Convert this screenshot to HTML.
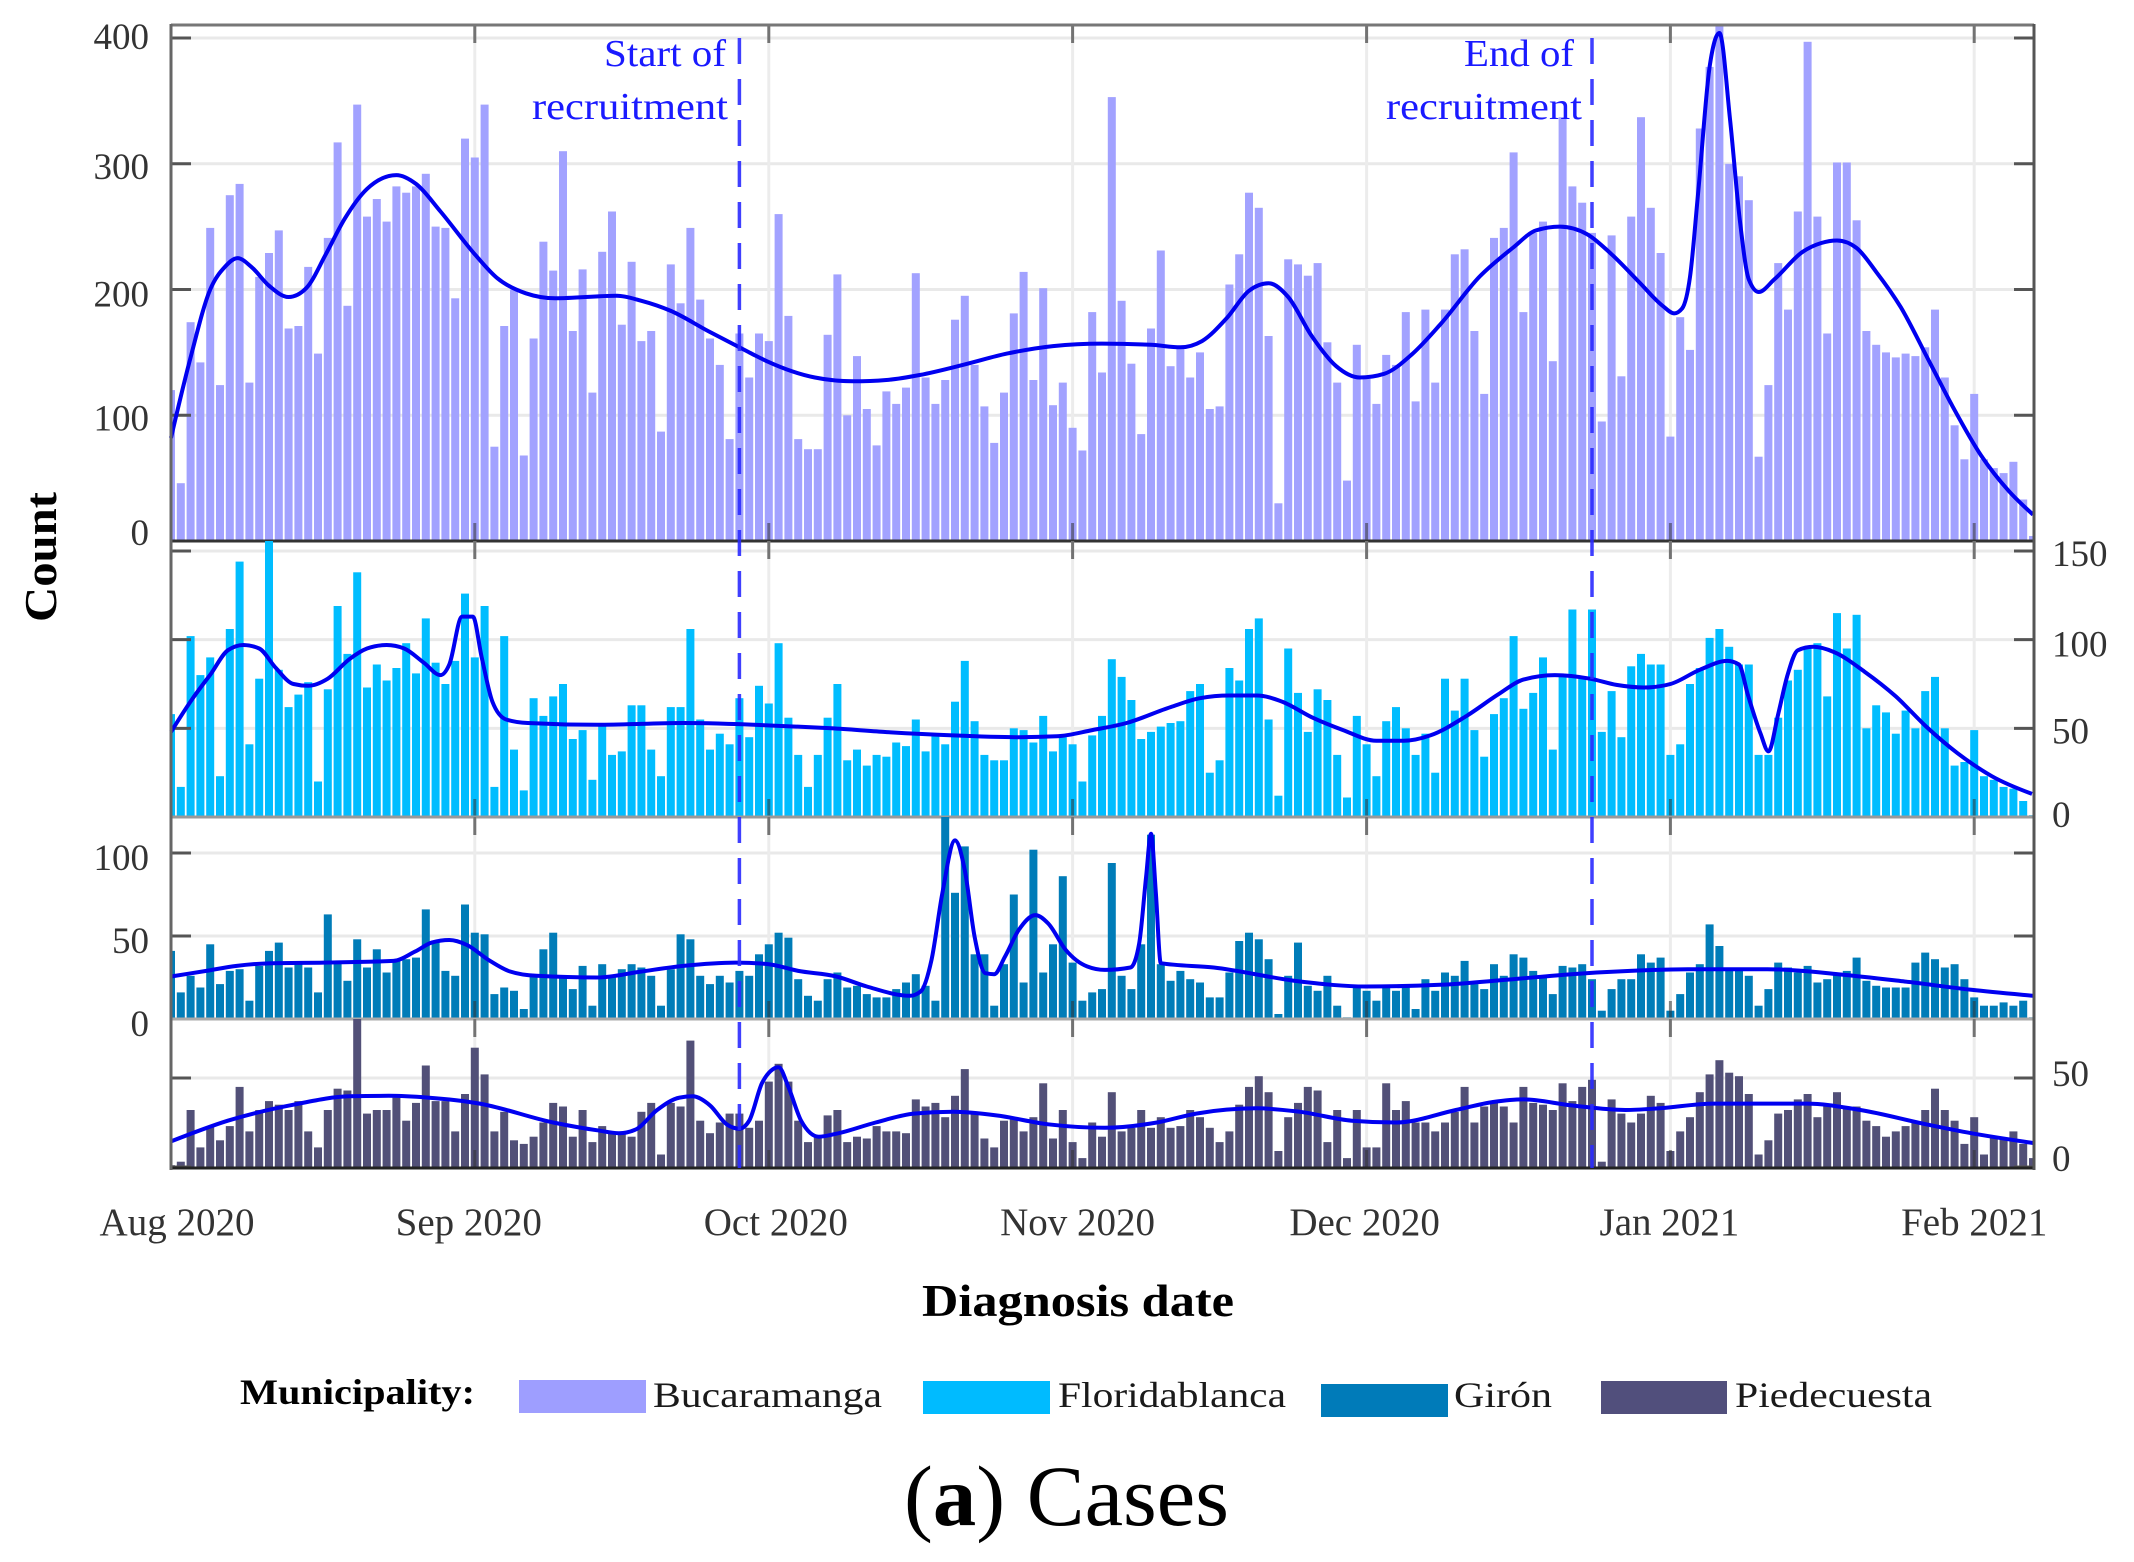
<!DOCTYPE html>
<html lang="en">
<head>
<meta charset="utf-8">
<title>Cases by municipality and diagnosis date</title>
<style>
  html, body { margin: 0; padding: 0; background: #fff; }
  body { width: 2134px; height: 1562px; overflow: hidden; }
  svg { display: block; font-family: "Liberation Serif", serif; }
</style>
</head>
<body>
<svg id="chart" xmlns="http://www.w3.org/2000/svg" width="2134" height="1562" viewBox="0 0 2134 1562">
  <rect x="0" y="0" width="2134" height="1562" fill="#ffffff"/>
  <g id="layer-panels"></g>
  <g id="layer-recruit"></g>
  <g id="layer-labels"></g>

  <text x="726" y="66" text-anchor="end" font-size="38" fill="#1a1aff" textLength="122" lengthAdjust="spacingAndGlyphs">Start of</text>
  <text x="728" y="119" text-anchor="end" font-size="38" fill="#1a1aff" textLength="196" lengthAdjust="spacingAndGlyphs">recruitment</text>
  <text x="1574" y="66" text-anchor="end" font-size="38" fill="#1a1aff" textLength="110" lengthAdjust="spacingAndGlyphs">End of</text>
  <text x="1582" y="119" text-anchor="end" font-size="38" fill="#1a1aff" textLength="196" lengthAdjust="spacingAndGlyphs">recruitment</text>

  <text transform="translate(56,557) rotate(-90)" text-anchor="middle" font-size="45" font-weight="bold" fill="#000" textLength="130" lengthAdjust="spacingAndGlyphs">Count</text>
  <text x="1078" y="1316" text-anchor="middle" font-size="45" font-weight="bold" fill="#000" textLength="312" lengthAdjust="spacingAndGlyphs">Diagnosis date</text>

  <g>
    <text x="240" y="1404" font-size="36" font-weight="bold" fill="#000" textLength="235" lengthAdjust="spacingAndGlyphs">Municipality:</text>
    <rect x="519" y="1380" width="127" height="33" fill="#9e9eff"/>
    <text x="653" y="1407" font-size="36" fill="#1a1a1a" textLength="229" lengthAdjust="spacingAndGlyphs">Bucaramanga</text>
    <rect x="923" y="1381" width="127" height="33" fill="#00bbff"/>
    <text x="1058" y="1407" font-size="36" fill="#1a1a1a" textLength="228" lengthAdjust="spacingAndGlyphs">Floridablanca</text>
    <rect x="1321" y="1384" width="127" height="33" fill="#007bb9"/>
    <text x="1454" y="1407" font-size="36" fill="#1a1a1a" textLength="98" lengthAdjust="spacingAndGlyphs">Girón</text>
    <rect x="1601" y="1381" width="126" height="33" fill="#514f7c"/>
    <text x="1735" y="1407" font-size="36" fill="#1a1a1a" textLength="197" lengthAdjust="spacingAndGlyphs">Piedecuesta</text>
  </g>

  <text x="904" y="1525" font-size="86" fill="#000" textLength="325" lengthAdjust="spacingAndGlyphs">(<tspan font-weight="bold">a</tspan>) Cases</text>
</svg>

<script>
/* ---------- categories and tick labels ---------- */
const monthTickDays = [0, 31, 61, 92, 122, 153, 184];
const monthTickLabels = ["Aug 2020", "Sep 2020", "Oct 2020", "Nov 2020", "Dec 2020", "Jan 2021", "Feb 2021"];
const recruitmentDays = [58, 145];

const bucaramangaTicks = [0, 100, 200, 300, 400];
const floridablancaTicks = [0, 50, 100, 150];
const gironTicks = [0, 50, 100];
const piedecuestaTicks = [0, 50];

/* ---------- daily counts (Aug 1 2020 onward) ---------- */
const bucaramangaValues = [
  120,46,174,142,249,124,275,284,126,210,
  229,247,169,171,218,149,241,317,187,347,
  258,272,254,282,277,282,292,250,249,193,
  320,305,347,75,171,200,68,161,238,215,
  310,167,216,118,230,262,172,222,159,167,
  87,220,189,249,192,161,140,81,165,130,
  165,159,260,179,81,73,73,164,212,100,
  147,105,76,119,109,122,213,130,109,128,
  176,195,140,107,78,118,181,214,128,201,
  108,126,90,72,182,134,353,191,141,85,
  169,231,139,155,130,150,105,107,204,228,
  277,265,163,30,224,220,211,221,158,126,
  48,156,129,109,148,140,182,111,184,126,
  184,228,232,167,117,241,249,309,182,245,
  254,143,337,282,269,245,95,243,131,258,
  337,265,229,83,178,152,328,377,411,300,
  290,271,67,124,221,184,262,397,258,165,
  301,301,255,167,156,150,146,149,147,154,
  184,130,92,65,117,65,58,54,63,33,
  4
];
const floridablancaValues = [
  58,17,102,80,90,23,106,144,41,78,
  160,83,62,69,76,20,72,119,92,138,
  73,86,77,84,98,81,112,87,75,88,
  126,90,119,17,102,38,15,67,57,68,
  75,44,49,21,52,35,37,63,63,38,
  23,62,62,106,55,38,47,41,67,45,
  74,64,98,56,35,17,35,56,75,32,
  38,29,35,34,42,40,55,37,46,41,
  65,88,54,35,32,32,50,49,42,57,
  37,45,41,20,46,57,89,79,66,44,
  48,51,53,54,71,75,25,32,84,77,
  106,112,55,12,95,70,48,72,66,35,
  11,57,41,23,54,62,50,35,47,25,
  78,60,78,49,34,58,67,102,61,70,
  90,38,79,117,78,117,48,71,45,85,
  92,86,86,35,41,75,84,101,106,96,
  86,86,35,35,56,77,83,96,98,68,
  115,95,114,50,63,59,47,60,50,71,
  79,50,29,31,49,23,21,17,16,9,
  1
];
const gironValues = [
  41,16,26,19,45,21,29,30,11,32,
  41,46,31,33,31,16,63,34,23,48,
  31,42,28,35,36,37,66,47,29,26,
  69,52,51,15,19,17,6,26,42,52,
  25,18,32,8,33,25,30,33,31,26,
  8,30,51,48,26,21,26,22,29,26,
  39,45,52,49,24,14,11,24,28,19,
  20,15,13,13,18,22,27,20,11,122,
  76,104,39,39,8,33,75,22,102,28,
  45,86,34,11,16,18,94,26,18,45,
  111,33,23,29,24,22,13,13,28,47,
  52,48,36,3,26,46,20,17,26,8,
  1,19,17,11,19,17,19,6,24,17,
  28,26,35,21,18,33,26,39,37,29,
  25,15,32,31,33,24,5,18,24,24,
  39,34,37,5,15,28,33,57,44,30,
  30,26,8,18,34,31,28,32,22,24,
  28,29,37,23,20,19,19,19,34,40,
  36,31,33,24,13,8,8,10,8,11,
  1
];
const piedecuestaValues = [
  1,3,32,11,23,15,23,45,20,32,
  37,35,32,37,20,11,32,44,43,84,
  30,32,32,39,26,36,57,37,37,20,
  41,67,52,20,31,15,13,17,25,36,
  34,17,32,14,23,19,19,17,31,36,
  7,36,34,71,26,19,25,30,30,22,
  26,48,58,48,26,14,18,29,32,14,
  17,16,23,20,20,19,38,34,36,28,
  40,55,30,16,11,26,27,20,28,47,
  16,32,14,5,25,17,42,20,22,32,
  22,28,22,23,32,28,22,14,20,35,
  45,51,42,9,28,36,45,43,14,32,
  5,32,11,11,47,32,37,25,25,20,
  25,31,45,25,34,37,34,25,45,36,
  35,32,47,37,45,49,3,38,30,25,
  30,40,36,9,20,28,42,52,60,53,
  51,41,7,15,30,32,38,41,28,35,
  42,34,34,26,23,17,20,23,25,32,
  44,32,26,13,28,7,17,16,20,13,
  5
];

/* ---------- smoothed trend curves, read at key dates ---------- */
const bucaramangaTrendDays = [0,2,4,5.5,6.8,8.2,10,12,13.8,15.8,17.7,20,23,25,27.5,31,33.3,36.2,39.2,45.5,48,51,54.8,59,60.8,65.7,69.6,73,76.4,80.8,85.3,90,95,100,103,105.2,107.7,110,112,114,116.4,118.9,121.3,123.8,126.7,129.6,133.5,136.9,139.3,141.7,144.5,147,149.8,152.2,153.4,154.2,155,155.8,157,158,159.1,160.1,161,162,163.6,166.5,168.4,170,172,174,176.5,179.4,181.8,184.7,187.5,190];
const bucaramangaTrendValues = [82,146,200,218,225,218,203,194,201,228,256,280,291,284,262,228,209,197,193,195,191,183,167,150,143,130,127,128,132,140,149,155,157,156,154,159,177,199,205,194,163,139,130,133,149,173,210,233,247,250,244,228,206,187,181,185,210,274,377,404,334,254,208,198,208,230,237,239,233,214,186,143,107,68,40,21];

const floridablancaTrendDays = [0,2.1,4.1,5.8,7.4,9,10.7,12.5,14,16,18.2,20,22,23.8,25.8,27.5,28.4,29.7,30.8,31.7,32.8,34.2,36.4,43.5,52.3,63.8,67.4,72.7,79.8,86.5,90.4,94,97.5,102,105,108,110.8,113.4,116.5,119.6,123,125.8,128.5,132.2,135.4,138,141.2,144.8,147.5,150.3,153,156,158.8,160,160.9,162.2,163,164,164.9,166,167.6,169.7,172.8,176,179.1,182.3,185.8,189.9];
const floridablancaTrendValues = [48,66,81,94,97,95,84,75,74,78,89,95,97,95,87,80,86,113,113,90,65,55,53,52,53,51,50,48,46,45,45.5,49,53,62,67,68.5,68.5,65,56,49,43,43,46,57,69,77.5,80,78,74.5,73,75,83,88,86,69,47,37,58,79,94,96,93,82,68,51,36,23,13];

const gironTrendDays = [0,3.6,6.7,10.3,15.6,22.7,24.9,26.6,28.4,30.2,32.4,34.6,37.3,43.5,48,52.3,57.6,61,64,67.9,71,75.4,76.5,77.6,78.7,80,81,82,83.1,84,85.1,86.5,88.2,89.5,91.3,93.5,95.3,97.9,98.8,99.5,100,100.5,101,106.4,115.2,121.9,129.5,136.2,142.9,148.9,154.8,162.9,170.1,176.9,183.7,190];
const gironTrendValues = [25.6,29,32,33.6,34,35,40.6,46,47.6,44.6,35.6,28.6,26,25,28.6,32,34,33,29,25.6,19.6,14,16.6,35.6,75.6,107.6,89.6,49.6,27.6,27,37.6,53.6,62.6,57.6,41.6,31.6,29.6,31,45.6,85.6,111.6,75.6,33.6,31,22.6,19.6,20.6,23.6,27,29,30,30,27,22.6,17.6,14];

const piedecuestaTrendDays = [0,5.8,12.5,18.2,22.2,26.2,31.5,39,43.5,45.7,47.4,49.6,51.9,53.2,55,56.7,58,59,60.3,61.2,62,63,64.3,66.1,67.9,71.9,75.8,79.8,84.2,89.5,95.3,100.6,104.6,110.8,115.2,120.5,125,131.1,134.9,138,142.9,148.4,151.9,157.4,166.9,172.4,179.1,183.7,190];
const piedecuestaTrendValues = [14.4,26,35,39.7,40,39,35.6,25,20.6,19,21,32,39,39.7,34.6,24,21.5,26,47,54,56,45,26,17,18.7,25,30,31,29,24,22,25,30,33,31,26,25,32,36.5,38,34.6,32,33,35.6,35.6,32,24,19,13.5];

/* ---------- axis functions ---------- */
const SVG_NS = "http://www.w3.org/2000/svg";
const PLOT_LEFT = 171, PLOT_RIGHT = 2034, PX_PER_DAY = 9.8, BAR_WIDTH = 8;
function xScale(day) { return PLOT_LEFT + PX_PER_DAY * day; }
function linearScale(v0, y0, v1, y1) { return function (v) { return y0 + (v - v0) * (y1 - y0) / (v1 - v0); }; }

function make(tag, attrs, parent) {
  const el = document.createElementNS(SVG_NS, tag);
  for (const k in attrs) el.setAttribute(k, attrs[k]);
  parent.appendChild(el);
  return el;
}

/* monotone cubic through the trend readings: no overshoot at the sharp peaks */
function smoothPath(days, values, yScale) {
  const pts = days.map(function (d, i) { return [xScale(d), yScale(values[i])]; });
  const n = pts.length;
  const seg = [];
  for (let i = 0; i < n - 1; i++) seg.push((pts[i + 1][1] - pts[i][1]) / (pts[i + 1][0] - pts[i][0]));
  const slopes = new Array(n);
  for (let i = 1; i < n - 1; i++) {
    const h0 = pts[i][0] - pts[i - 1][0], h1 = pts[i + 1][0] - pts[i][0];
    const s0 = seg[i - 1], s1 = seg[i];
    const mid = (s0 * h1 + s1 * h0) / (h0 + h1);
    slopes[i] = (Math.sign(s0) + Math.sign(s1)) * Math.min(Math.abs(s0), Math.abs(s1), 0.5 * Math.abs(mid));
  }
  slopes[0] = (3 * seg[0] - slopes[1]) / 2;
  slopes[n - 1] = (3 * seg[n - 2] - slopes[n - 2]) / 2;
  let d = "M" + pts[0][0].toFixed(1) + "," + pts[0][1].toFixed(1);
  for (let i = 0; i < n - 1; i++) {
    const dx = (pts[i + 1][0] - pts[i][0]) / 3;
    d += " C" + (pts[i][0] + dx).toFixed(1) + "," + (pts[i][1] + slopes[i] * dx).toFixed(1) +
         " " + (pts[i + 1][0] - dx).toFixed(1) + "," + (pts[i + 1][1] - slopes[i + 1] * dx).toFixed(1) +
         " " + pts[i + 1][0].toFixed(1) + "," + pts[i + 1][1].toFixed(1);
  }
  return d;
}

const panelLayer = document.getElementById("layer-panels");
const labelLayer = document.getElementById("layer-labels");
const recruitLayer = document.getElementById("layer-recruit");

const panels = [
  { key: "bucaramanga", color: "#a2a2ff", top: 25, bottom: 541,
    y: linearScale(0, 541, 400, 38), ticks: bucaramangaTicks, values: bucaramangaValues,
    trendDays: bucaramangaTrendDays, trendValues: bucaramangaTrendValues,
    labelSide: "left", labelDy: 15, labelNudge: { 0: -11, 400: -4, 200: 2 }, sep: "#333333" },
  { key: "floridablanca", color: "#00bdff", top: 541, bottom: 817,
    y: linearScale(0, 817, 150, 551), ticks: floridablancaTicks, values: floridablancaValues,
    trendDays: floridablancaTrendDays, trendValues: floridablancaTrendValues,
    labelSide: "right", labelDy: 14, labelNudge: { 0: -4, 100: 3, 150: 1, 50: 1 }, sep: "#999999" },
  { key: "giron", color: "#007cb8", top: 817, bottom: 1019,
    y: linearScale(0, 1019, 100, 853), ticks: gironTicks, values: gironValues,
    trendDays: gironTrendDays, trendValues: gironTrendValues,
    labelSide: "left", labelDy: 17, labelNudge: {}, sep: "#aaaaaa" },
  { key: "piedecuesta", color: "#525078", top: 1019, bottom: 1168,
    y: linearScale(0, 1167, 50, 1078), ticks: piedecuestaTicks, values: piedecuestaValues,
    trendDays: piedecuestaTrendDays, trendValues: piedecuestaTrendValues,
    labelSide: "right", labelDy: 5, labelNudge: { 50: 3, 0: -1 }, sep: "#222222" }
];

panels.forEach(function (p) {
  const g = make("g", {}, panelLayer);
  
  

  const clip = make("clipPath", { id: "clip-" + p.key }, g);
  make("rect", { x: PLOT_LEFT, y: p.top, width: PLOT_RIGHT - PLOT_LEFT, height: p.bottom - p.top }, clip);

  /* gridlines under the bars */
  p.ticks.forEach(function (t) {
    if (t === 0) return;
    const line = make("line", { x1: PLOT_LEFT, x2: PLOT_RIGHT, y1: p.y(t), y2: p.y(t), stroke: "#e9e9e9", "stroke-width": 3 }, g);
    
    
  });
  monthTickDays.forEach(function (d, i) {
    const line = make("line", { x1: xScale(d), x2: xScale(d), y1: p.top, y2: p.bottom, stroke: "#ececec", "stroke-width": 3 }, g);
    
    
  });

  /* bars */
  const barGroup = make("g", { "clip-path": "url(#clip-" + p.key + ")", fill: p.color }, g);
  
  
  p.values.forEach(function (v, i) {
    const yTop = p.y(v);
    const bar = make("rect", { x: (xScale(i) - BAR_WIDTH / 2).toFixed(1), y: yTop.toFixed(1), width: BAR_WIDTH, height: Math.max(0, p.y(0) - yTop).toFixed(1) }, barGroup);
    
    
  });

  /* month ticks */
  monthTickDays.forEach(function (d, i) {
    const tickTop = make("line", { x1: xScale(d), x2: xScale(d), y1: p.top, y2: p.top + 18, stroke: "rgba(50,50,50,0.65)", "stroke-width": 3 }, g);
    
    
    const tickBottom = make("line", { x1: xScale(d), x2: xScale(d), y1: p.bottom - 18, y2: p.bottom, stroke: "rgba(50,50,50,0.55)", "stroke-width": 3 }, g);
    
    
  });

  /* y ticks, both sides */
  p.ticks.forEach(function (t) {
    const tl = make("line", { x1: PLOT_LEFT, x2: PLOT_LEFT + 20, y1: p.y(t), y2: p.y(t), stroke: "#555555", "stroke-width": 3 }, g);
    
    
    const tr = make("line", { x1: PLOT_RIGHT - 20, x2: PLOT_RIGHT, y1: p.y(t), y2: p.y(t), stroke: "#555555", "stroke-width": 3 }, g);
    
    

    const label = make("text", {
      x: p.labelSide === "left" ? 149 : 2052,
      y: p.y(t) + p.labelDy + (p.labelNudge[t] || 0),
      "text-anchor": p.labelSide === "left" ? "end" : "start",
      "font-size": 37, fill: "#333333"
    }, labelLayer);
    
    
    label.textContent = String(t);
  });

  /* trend */
  const trend = make("path", { d: smoothPath(p.trendDays, p.trendValues, p.y), fill: "none", stroke: "#0000f0", "stroke-width": 4, "stroke-linejoin": "round" }, g);
  
  

  /* panel baseline */
  const sep = make("line", { x1: PLOT_LEFT, x2: PLOT_RIGHT, y1: p.bottom, y2: p.bottom, stroke: p.sep, "stroke-width": 3 }, g);
  
  
});

/* frame */
const frameTop = make("line", { x1: PLOT_LEFT, x2: PLOT_RIGHT, y1: 25, y2: 25, stroke: "#777777", "stroke-width": 3 }, panelLayer);


const frameLeft = make("line", { x1: PLOT_LEFT, x2: PLOT_LEFT, y1: 24, y2: 1170, stroke: "#666666", "stroke-width": 3 }, panelLayer);


const frameRight = make("line", { x1: PLOT_RIGHT, x2: PLOT_RIGHT, y1: 24, y2: 1170, stroke: "#555555", "stroke-width": 3 }, panelLayer);



/* recruitment markers */
recruitmentDays.forEach(function (d, i) {
  const line = make("line", { x1: xScale(d), x2: xScale(d), y1: 38, y2: 1168, stroke: "#2a2aff", "stroke-width": 3.5, "stroke-dasharray": "26 15", "stroke-opacity": 0.9 }, recruitLayer);
  
  
});

/* month labels: centred on the tick, with a small per-label layout shift */
function monthLabelShift(i) {
  switch (i) {
    case 0: return 6;
    case 1: return -6;
    case 2: return 7;
    case 3: return 5;
    case 4: return -2;
    case 5: return -1;
    default: return 0;
  }
}
monthTickDays.forEach(function (d, i) {
  const label = make("text", { x: xScale(d) + monthLabelShift(i), y: 1235, "text-anchor": "middle", "font-size": 39, fill: "#333333" }, labelLayer);
  
  
  label.textContent = monthTickLabels[i];
});
</script>
</body>
</html>
